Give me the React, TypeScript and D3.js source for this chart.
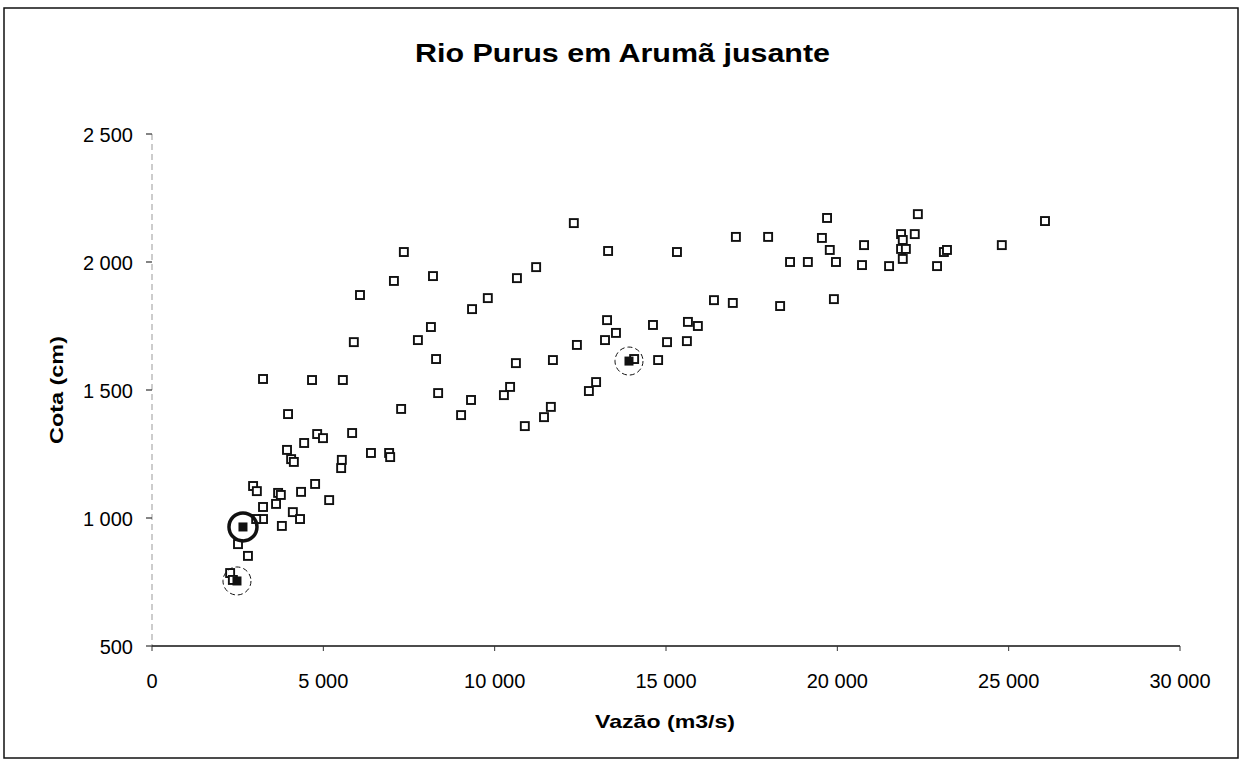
import React, { useEffect, useRef } from 'react';
import * as d3 from 'd3';

// vazão (m3/s) e cota (cm) dos pontos medidos
const vazao = [
  3240, 4670, 5570, 7350, 7060, 8200, 6070, 8140, 5890, 7760, 8290, 8350, 3970, 7270,
  3940, 4440, 4820, 4990, 5840, 4060, 4140, 5540, 5520, 6390, 6920, 6950, 2950, 3060,
  3680, 3760, 4350, 4760, 3240, 3620, 5170, 4110, 4320, 3240, 3790, 3040, 2510, 2800,
  2280, 2360, 12310, 13310, 15320, 10650, 11210, 9800, 9340, 10620, 11700, 12400, 13280,
  13540, 13220, 14070, 14620, 15030, 14770, 15640, 15930, 15610, 9310, 9020, 10450, 10270,
  11640, 11440, 10880, 12960, 12750, 19700, 17040, 17980, 19550, 19780, 20780, 18620,
  19140, 19960, 20720, 21510, 16400, 16950, 18330, 19900, 22350, 22260, 21860, 21910,
  21860, 22000, 21910, 22910, 23110, 23200, 24800, 26060,
];
const cota = [
  1543, 1539, 1539, 2039, 1926, 1945, 1871, 1746, 1687, 1695, 1621, 1488, 1406, 1426,
  1266, 1293, 1328, 1312, 1332, 1230, 1219, 1227, 1195, 1254, 1254, 1238, 1125, 1105,
  1098, 1090, 1102, 1133, 1043, 1055, 1070, 1023, 996, 996, 969, 996, 898, 852,
  785, 758, 2152, 2043, 2039, 1937, 1980, 1859, 1816, 1605, 1617, 1676, 1773,
  1723, 1695, 1621, 1754, 1687, 1617, 1766, 1750, 1691, 1461, 1402, 1512, 1480,
  1434, 1394, 1359, 1531, 1496, 2172, 2098, 2098, 2094, 2047, 2066, 2000,
  2000, 2000, 1988, 1984, 1851, 1840, 1828, 1855, 2187, 2109, 2109, 2086,
  2051, 2051, 2012, 1984, 2039, 2047, 2066, 2160,
];

// pontos em destaque (preenchidos, com círculo)
const destaqueVazao = [2655, 2480, 13920];
const destaqueCota = [965, 754, 1613];
const destaqueTipo = ['solid', 'dashed', 'dashed'];

const xTicks = [0, 5000, 10000, 15000, 20000, 25000, 30000];
const yTicks = [500, 1000, 1500, 2000, 2500];

const App = () => {
  const ref = useRef<SVGSVGElement>(null);

  useEffect(() => {
    const svg = d3.select(ref.current);
    svg.selectAll('*').remove();

    const font = 'Liberation Sans, Arial, sans-serif';
    const fmt = d3.formatLocale({ decimal: ',', thousands: ' ', grouping: [3], currency: ['', ''] }).format(',');

    const x = d3.scaleLinear().domain([0, 30000]).range([152, 1180]);
    const y = d3.scaleLinear().domain([500, 2500]).range([646, 134]);

    // moldura
    svg.append('rect')
      .attr('x', 4).attr('y', 8).attr('width', 1234).attr('height', 750)
      .attr('fill', 'white').attr('stroke', '#111').attr('stroke-width', 1.5);

    svg.append('text')
      .attr('x', 415).attr('y', 62)
      .attr('textLength', 415).attr('lengthAdjust', 'spacingAndGlyphs')
      .attr('font-family', font).attr('font-weight', 'bold').attr('font-size', 25)
      .text('Rio Purus em Arumã jusante');

    // eixo y
    svg.append('line')
      .attr('x1', 152).attr('x2', 152).attr('y1', y(2500)).attr('y2', y(500))
      .attr('stroke', '#999').attr('stroke-width', 1).attr('stroke-dasharray', '6,4');
    const gy = svg.append('g');
    yTicks.forEach((t) => {
      gy.append('line')
        .attr('x1', 146).attr('x2', 152).attr('y1', y(t)).attr('y2', y(t))
        .attr('stroke', '#333').attr('stroke-width', 1.2);
      gy.append('text')
        .attr('x', 133).attr('y', y(t) + 8)
        .attr('text-anchor', 'end')
        .attr('font-family', font).attr('font-size', 20)
        .text(fmt(t));
    });

    // eixo x
    svg.append('line')
      .attr('x1', x(0)).attr('x2', x(30000)).attr('y1', 646).attr('y2', 646)
      .attr('stroke', '#111').attr('stroke-width', 1.6);
    const gx = svg.append('g');
    xTicks.forEach((t) => {
      gx.append('line')
        .attr('x1', x(t)).attr('x2', x(t)).attr('y1', 646).attr('y2', 651)
        .attr('stroke', '#333').attr('stroke-width', 1);
      gx.append('text')
        .attr('x', x(t)).attr('y', 688)
        .attr('text-anchor', 'middle')
        .attr('font-family', font).attr('font-size', 20)
        .text(fmt(t));
    });

    svg.append('text')
      .attr('x', 595).attr('y', 728)
      .attr('textLength', 140).attr('lengthAdjust', 'spacingAndGlyphs')
      .attr('font-family', font).attr('font-weight', 'bold').attr('font-size', 19)
      .text('Vazão (m3/s)');

    svg.append('text')
      .attr('transform', `translate(63,390) rotate(-90)`)
      .attr('text-anchor', 'middle')
      .attr('textLength', 108).attr('lengthAdjust', 'spacingAndGlyphs')
      .attr('font-family', font).attr('font-weight', 'bold').attr('font-size', 19)
      .text('Cota (cm)');

    const s = 8;
    const pts = vazao.map((v, i) => [v, cota[i]]);
    svg.append('g')
      .selectAll('rect')
      .data(pts)
      .enter()
      .append('rect')
      .attr('x', (d) => x(d[0]) - s / 2)
      .attr('y', (d) => y(d[1]) - s / 2)
      .attr('width', s).attr('height', s)
      .attr('fill', 'white').attr('stroke', '#111').attr('stroke-width', 1.9);

    const dest = destaqueVazao.map((v, i) => ({ v, c: destaqueCota[i], t: destaqueTipo[i] }));
    const gd = svg.append('g');
    gd.selectAll('rect')
      .data(dest)
      .enter()
      .append('rect')
      .attr('x', (d) => x(d.v) - 4.5)
      .attr('y', (d) => y(d.c) - 4.5)
      .attr('width', 9).attr('height', 9)
      .attr('fill', '#111');
    gd.selectAll('circle')
      .data(dest)
      .enter()
      .append('circle')
      .attr('cx', (d) => x(d.v))
      .attr('cy', (d) => y(d.c))
      .attr('r', 14)
      .attr('fill', 'none')
      .attr('stroke', '#111')
      .attr('stroke-width', (d) => (d.t === 'solid' ? 3.5 : 1))
      .attr('stroke-dasharray', (d) => (d.t === 'solid' ? null : '5,3'));
  }, []);

  return (
    <svg
      ref={ref}
      width={1245}
      height={764}
      style={{ position: 'absolute', left: 0, top: 0, background: 'white' }}
    ></svg>
  );
};

export default App;
